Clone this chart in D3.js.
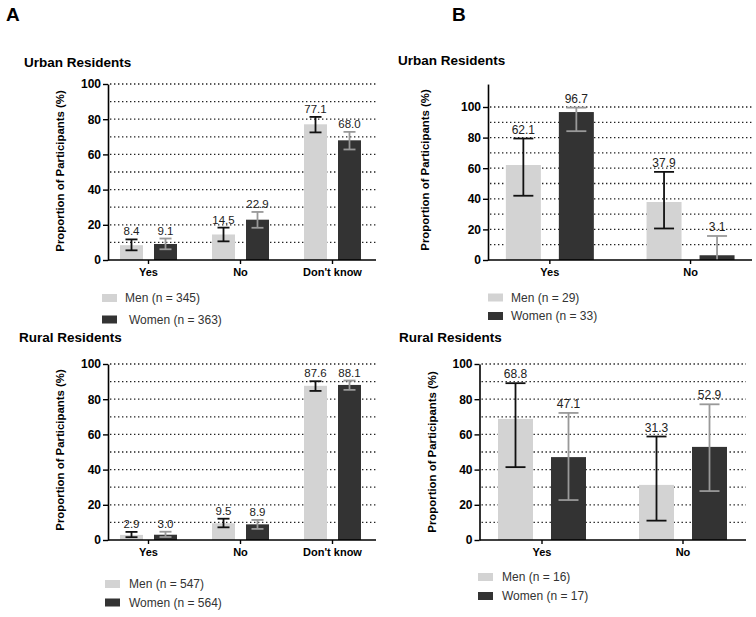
<!DOCTYPE html>
<html>
<head>
<meta charset="utf-8">
<script src="https://cdn.jsdelivr.net/npm/d3@7"></script>
<style>
  html, body { margin: 0; padding: 0; background: #fff; }
  svg { display: block; font-family: "Liberation Sans", Arial, sans-serif; }
</style>
</head>
<body>
<svg id="chart" width="756" height="617"></svg>
<script>
// ---------- DATA ----------
const seriesNames = ["Men", "Women"];

// Panel A – Urban
const catsA = ["Yes", "No", "Don't know"];
const aUrbanMen = [8.4, 14.5, 77.1];
const aUrbanMenLo = [5.5, 10.6, 72.5];
const aUrbanMenHi = [11.7, 18.4, 81.3];
const aUrbanWomen = [9.1, 22.9, 68.0];
const aUrbanWomenLo = [6.1, 18.3, 62.8];
const aUrbanWomenHi = [12.2, 27.3, 72.8];
const aUrbanLegend = ["Men (n = 345)", "Women (n = 363)"];

// Panel A – Rural
const aRuralMen = [2.9, 9.5, 87.6];
const aRuralMenLo = [1.6, 7.2, 84.7];
const aRuralMenHi = [4.6, 12.1, 90.2];
const aRuralWomen = [3.0, 8.9, 88.1];
const aRuralWomenLo = [1.7, 6.3, 85.3];
const aRuralWomenHi = [4.7, 11.4, 90.6];
const aRuralLegend = ["Men (n = 547)", "Women (n = 564)"];

// Panel B – Urban
const catsB = ["Yes", "No"];
const bUrbanMen = [62.1, 37.9];
const bUrbanMenLo = [42.0, 20.6];
const bUrbanMenHi = [79.4, 57.6];
const bUrbanWomen = [96.7, 3.1];
const bUrbanWomenLo = [84.2, 0];
const bUrbanWomenHi = [99.6, 15.7];
const bUrbanLegend = ["Men (n = 29)", "Women (n = 33)"];

// Panel B – Rural
const bRuralMen = [68.8, 31.3];
const bRuralMenLo = [41.4, 11.0];
const bRuralMenHi = [89.1, 58.8];
const bRuralWomen = [47.1, 52.9];
const bRuralWomenLo = [22.7, 27.8];
const bRuralWomenHi = [72.2, 77.1];
const bRuralLegend = ["Men (n = 16)", "Women (n = 17)"];

const yTickLabels = [0, 20, 40, 60, 80, 100];
const gridValues = [10, 20, 30, 40, 50, 60, 70, 80, 90, 100];

// ---------- STYLE ----------
const barColors = ["#d3d3d3", "#333333"];
const errColors = ["#111111", "#999999"];
const yLabel = "Proportion of Participants (%)";

const svg = d3.select("#chart");

svg.append("text").attr("x", 6).attr("y", 21).attr("font-size", 19).attr("font-weight", "bold").text("A");
svg.append("text").attr("x", 452).attr("y", 21).attr("font-size", 19).attr("font-weight", "bold").text("B");

function drawPanel(p) {
  const g = svg.append("g");
  const y = d3.scaleLinear().domain([0, p.yMax]).range([p.y0, p.y0 - p.pxPer100 * p.yMax / 100]);
  const x = d3.scaleBand().domain(p.cats).range(p.bandRange).padding(0);
  const inner = d3.scaleBand().domain(seriesNames)
    .range([x.bandwidth() / 2 - p.barW - p.gap / 2, x.bandwidth() / 2 + p.barW + p.gap / 2])
    .paddingInner(p.gap / (p.barW + p.gap)).paddingOuter(0);

  // title
  g.append("text").attr("x", p.titleX).attr("y", p.titleY)
    .attr("font-size", 13.5).attr("font-weight", "bold").text(p.title);

  // gridlines
  g.selectAll("line.grid").data(gridValues).join("line")
    .attr("x1", p.axisX + 2).attr("x2", p.xEnd)
    .attr("y1", d => y(d)).attr("y2", d => y(d))
    .attr("stroke", "#222").attr("stroke-width", 1.3)
    .attr("stroke-dasharray", "1.4,2.6");

  // bars
  const series = [
    { name: "Men", v: p.men, lo: p.menLo, hi: p.menHi },
    { name: "Women", v: p.women, lo: p.womenLo, hi: p.womenHi }
  ];
  series.forEach((s, si) => {
    const data = p.cats.map((c, i) => ({ c, v: s.v[i], lo: s.lo[i], hi: s.hi[i] }));
    const bx = d => x(d.c) + inner(s.name);
    const cx = d => bx(d) + inner.bandwidth() / 2;
    g.selectAll("rect.s" + si).data(data).join("rect")
      .attr("x", bx).attr("width", inner.bandwidth())
      .attr("y", d => y(d.v)).attr("height", d => y(0) - y(d.v))
      .attr("fill", barColors[si]);
    // error bars
    g.selectAll("line.stem" + si).data(data).join("line")
      .attr("x1", cx).attr("x2", cx)
      .attr("y1", d => y(d.lo)).attr("y2", d => y(d.hi))
      .attr("stroke", errColors[si]).attr("stroke-width", 1.8);
    ["hi", "lo"].forEach(k => {
      g.selectAll("line.cap" + k + si).data(data.filter(d => d[k] > 0)).join("line")
        .attr("x1", d => cx(d) - p.capW / 2).attr("x2", d => cx(d) + p.capW / 2)
        .attr("y1", d => y(d[k])).attr("y2", d => y(d[k]))
        .attr("stroke", errColors[si]).attr("stroke-width", 1.8);
    });
    // value labels
    g.selectAll("text.val" + si).data(data).join("text")
      .attr("x", cx).attr("y", d => y(d.hi) - p.labelOff)
      .attr("text-anchor", "middle").attr("font-size", p.valFont).attr("fill", "#222")
      .text(d => d.v.toFixed(1));
  });

  // y axis
  const yAxis = d3.axisLeft(y).tickValues(yTickLabels).tickSize(5).tickSizeOuter(0).tickPadding(2);
  const ya = g.append("g").attr("transform", `translate(${p.axisX},0)`).call(yAxis);
  ya.select(".domain").attr("stroke", "#000").attr("stroke-width", 1.6);
  ya.selectAll(".tick line").attr("stroke", "#000").attr("stroke-width", 1.4);
  ya.selectAll(".tick text").attr("font-size", 12).attr("font-weight", "bold").attr("fill", "#000")
    .attr("font-family", '"Liberation Sans", Arial, sans-serif');

  // x axis
  const xAxis = d3.axisBottom(x).tickSize(4).tickPadding(4);
  const xa = g.append("g").attr("transform", `translate(0,${p.y0})`).call(xAxis);
  xa.select(".domain").remove();
  xa.selectAll(".tick line").attr("stroke", "#000").attr("stroke-width", 1.4);
  xa.selectAll(".tick text").attr("font-size", 11).attr("font-weight", "bold").attr("fill", "#000")
    .attr("font-family", '"Liberation Sans", Arial, sans-serif');
  g.append("line").attr("x1", p.axisX).attr("x2", p.xEnd).attr("y1", p.y0).attr("y2", p.y0)
    .attr("stroke", "#000").attr("stroke-width", 1.6);

  // y label
  g.append("text")
    .attr("transform", `translate(${p.yLabelX},${p.yLabelY}) rotate(-90)`)
    .attr("text-anchor", "middle").attr("font-size", 11.4).attr("font-weight", "bold")
    .attr("dy", "0.35em").text(yLabel);

  // legend
  p.legend.forEach((t, i) => {
    const ly = p.legendY[i];
    g.append("rect").attr("x", p.legendX).attr("y", ly - 4).attr("width", 15).attr("height", 8)
      .attr("fill", barColors[i]);
    g.append("text").attr("x", p.legendTextX[i]).attr("y", ly).attr("dy", "0.35em")
      .attr("font-size", 12).attr("fill", "#333").text(t);
  });
}

drawPanel({
  title: "Urban Residents", titleX: 24, titleY: 66.5,
  cats: catsA, men: aUrbanMen, menLo: aUrbanMenLo, menHi: aUrbanMenHi,
  women: aUrbanWomen, womenLo: aUrbanWomenLo, womenHi: aUrbanWomenHi,
  legend: aUrbanLegend,
  yMax: 100, y0: 260, pxPer100: 176, axisX: 108, xEnd: 376,
  bandRange: [102.5, 378.5], barW: 23, gap: 11, capW: 12, valFont: 11.5, labelOff: 4,
  yLabelX: 60, yLabelY: 171,
  legendX: 102, legendY: [298, 319.5], legendTextX: [125, 129]
});

drawPanel({
  title: "Rural Residents", titleX: 19, titleY: 341.5,
  cats: catsA, men: aRuralMen, menLo: aRuralMenLo, menHi: aRuralMenHi,
  women: aRuralWomen, womenLo: aRuralWomenLo, womenHi: aRuralWomenHi,
  legend: aRuralLegend,
  yMax: 100, y0: 540, pxPer100: 176, axisX: 108, xEnd: 376,
  bandRange: [102.5, 378.5], barW: 23, gap: 11, capW: 12, valFont: 11.5, labelOff: 4,
  yLabelX: 60, yLabelY: 450,
  legendX: 105, legendY: [584, 602.5], legendTextX: [129, 129]
});

drawPanel({
  title: "Urban Residents", titleX: 398, titleY: 64.5,
  cats: catsB, men: bUrbanMen, menLo: bUrbanMenLo, menHi: bUrbanMenHi,
  women: bUrbanWomen, womenLo: bUrbanWomenLo, womenHi: bUrbanWomenHi,
  legend: bUrbanLegend,
  yMax: 115, y0: 260, pxPer100: 153, axisX: 488, xEnd: 752,
  bandRange: [479.5, 760.9], barW: 35, gap: 18, capW: 20, valFont: 12, labelOff: 5,
  yLabelX: 425, yLabelY: 170,
  legendX: 488, legendY: [297.5, 316], legendTextX: [511, 511]
});

drawPanel({
  title: "Rural Residents", titleX: 399, titleY: 341.5,
  cats: catsB, men: bRuralMen, menLo: bRuralMenLo, menHi: bRuralMenHi,
  women: bRuralWomen, womenLo: bRuralWomenLo, womenHi: bRuralWomenHi,
  legend: bRuralLegend,
  yMax: 100, y0: 540, pxPer100: 176, axisX: 479.5, xEnd: 746,
  bandRange: [471.5, 753.5], barW: 35, gap: 18, capW: 20, valFont: 12, labelOff: 5,
  yLabelX: 432, yLabelY: 452,
  legendX: 478, legendY: [577, 596], legendTextX: [502, 502]
});
</script>
</body>
</html>
